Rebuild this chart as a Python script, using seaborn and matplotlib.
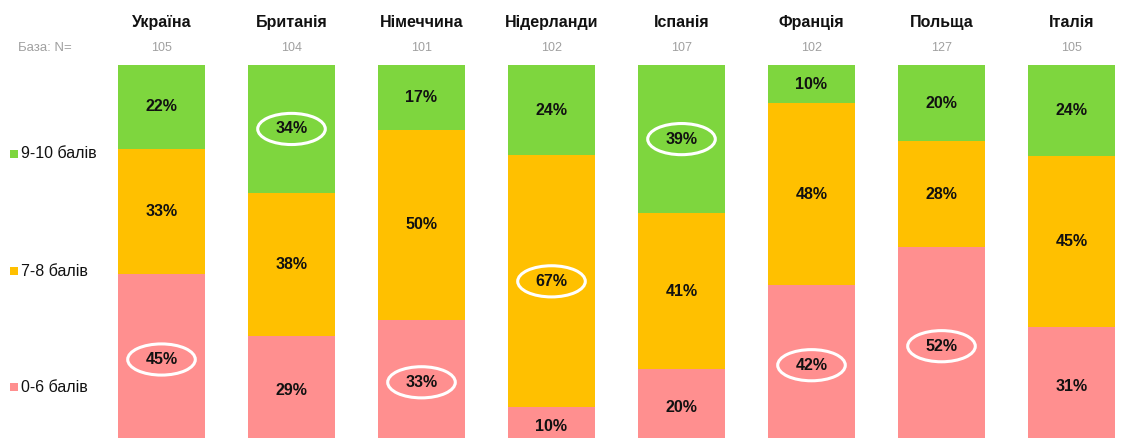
import numpy as np
import pandas as pd
import matplotlib
matplotlib.use("Agg")
import matplotlib.pyplot as plt
from matplotlib.patches import Ellipse, Rectangle
import seaborn as sns

countries = ["Україна", "Британія", "Німеччина", "Нідерланди", "Іспанія", "Франція", "Польща", "Італія"]
base_n = [105, 104, 101, 102, 107, 102, 127, 105]
high = [22, 34, 17, 24, 39, 10, 20, 24]     # 9-10 балів
mid = [33, 38, 50, 67, 41, 48, 28, 45]      # 7-8 балів
low = [45, 29, 33, 10, 20, 42, 52, 31]      # 0-6 балів
# highlighted (circled) segment per country: "high", "mid", "low" or None
circled = ["low", "high", "low", "mid", "high", "low", "low", None]
legend_labels = ["9-10 балів", "7-8 балів", "0-6 балів"]

C_HIGH = "#7ED63E"
C_MID = "#FFC000"
C_LOW = "#FF8F8F"

plt.rcParams["font.family"] = ["Liberation Sans", "DejaVu Sans"]

df = pd.DataFrame({"country": countries, "high": high, "mid": mid, "low": low})
tot = df["high"] + df["mid"] + df["low"]
df["low_f"] = df["low"] / tot
df["mid_f"] = df["mid"] / tot
df["high_f"] = df["high"] / tot
df["cum_low"] = df["low_f"]
df["cum_mid"] = df["low_f"] + df["mid_f"]
df["cum_high"] = df["cum_mid"] + df["high_f"]

W, H = 1125, 438
Y0, Y1 = 445, 65  # pixel rows (from top) of value 0 and value 1
fig = plt.figure(figsize=(W / 100, H / 100), dpi=100)
ax = fig.add_axes([96.5 / W, (H - Y0) / H, 1040 / W, (Y0 - Y1) / H])

bw = 0.67
for col, color in [("cum_high", C_HIGH), ("cum_mid", C_MID), ("cum_low", C_LOW)]:
    sns.barplot(data=df, x="country", y=col, color=color, saturation=1,
                width=bw, linewidth=0, ax=ax)

ax.set_xlim(-0.5, 7.5)
ax.set_ylim(0, 1)
ax.axis("off")


def ydat(px):
    return (Y0 - px) / (Y0 - Y1)


txt_col = "#111111"
for i, row in df.iterrows():
    segs = {
        "low": (0, row["cum_low"], row["low"]),
        "mid": (row["cum_low"], row["cum_mid"], row["mid"]),
        "high": (row["cum_mid"], row["cum_high"], row["high"]),
    }
    for key, (b, t, v) in segs.items():
        yc = (b + t) / 2
        ax.text(i, yc, f"{v}%", ha="center", va="center", fontsize=11.5,
                fontweight="bold", color=txt_col)
        if circled[i] == key:
            ax.add_patch(Ellipse((i, yc), width=0.52, height=0.082,
                                 fill=False, edgecolor="white", linewidth=2.2))
    ax.text(i, ydat(22), row["country"], ha="center", va="center", fontsize=11.5,
            fontweight="bold", color=txt_col, clip_on=False)
    ax.text(i, ydat(48), str(base_n[i]), ha="center", va="center", fontsize=9,
            color="#A0A0A0", clip_on=False)

fig.text(18 / W, 1 - 48 / H, "База: N=", ha="left", va="center", fontsize=9.5,
         color="#A0A0A0")

for lab, color, ypx in zip(legend_labels, [C_HIGH, C_MID, C_LOW], [154, 271, 387]):
    fig.patches.append(Rectangle((10 / W, 1 - (ypx + 4) / H), 7.5 / W, 8 / H,
                                 transform=fig.transFigure, facecolor=color,
                                 edgecolor="none"))
    fig.text(21 / W, 1 - ypx / H, lab, ha="left", va="center", fontsize=11.5,
             color=txt_col)

fig.savefig("out.png", dpi=100)
